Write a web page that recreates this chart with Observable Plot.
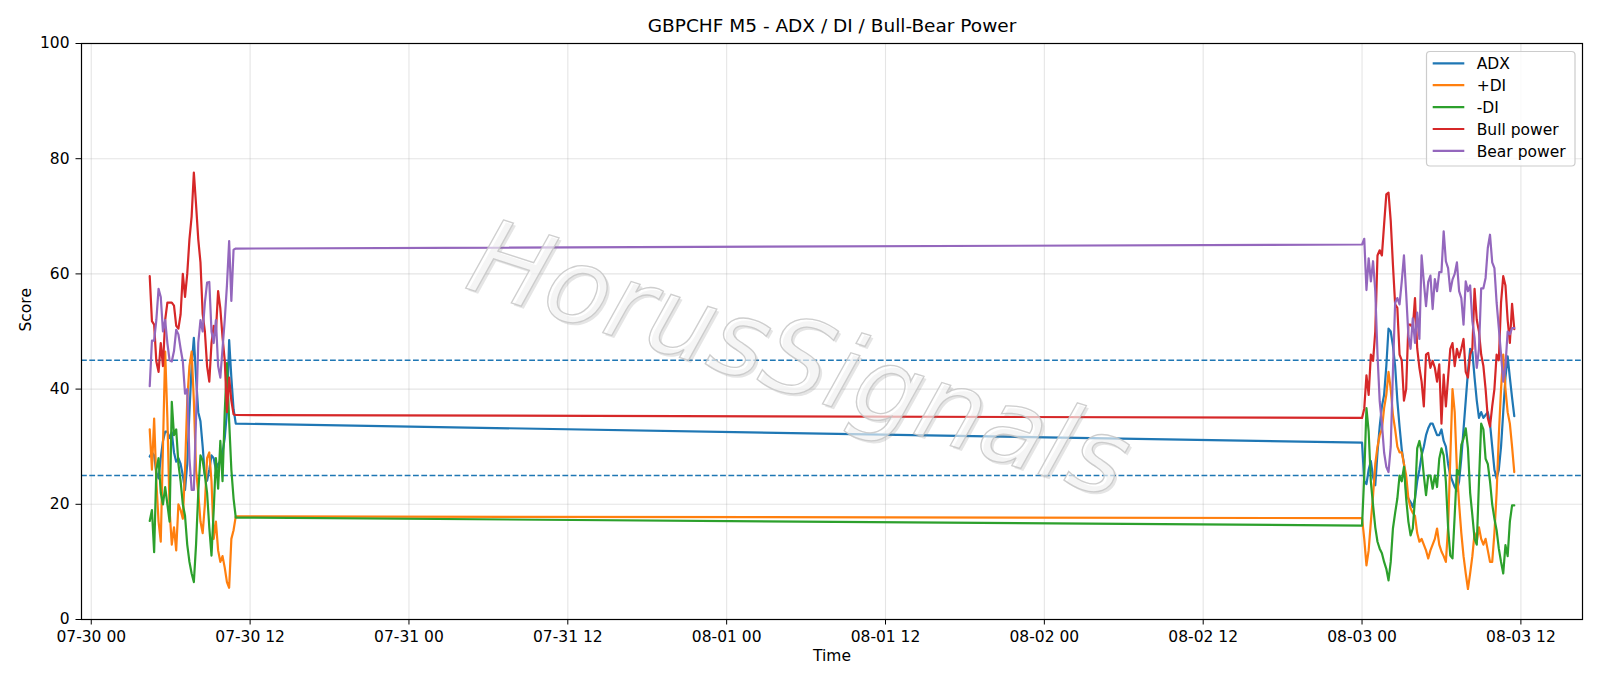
<!DOCTYPE html>
<html>
<head>
<meta charset="utf-8">
<script src="https://cdn.jsdelivr.net/npm/d3@7"></script>
<script src="https://cdn.jsdelivr.net/npm/@observablehq/plot@0.6"></script>
<style>
  html, body { margin: 0; padding: 0; background: #ffffff; }
  #chart svg { display: block; }
</style>
</head>
<body>
<div id="chart"></div>
<script>
// ---------------- DATA ----------------
const title = "GBPCHF M5 - ADX / DI / Bull-Bear Power";
const xLabel = "Time";
const yLabel = "Score";
const watermark = "HorusSignals";

const seriesNames = ["ADX", "+DI", "-DI", "Bull power", "Bear power"];
const seriesColors = ["#1f77b4", "#ff7f0e", "#2ca02c", "#d62728", "#9467bd"];

// two sessions of readings, one value every 10 minutes
const leftStart = "2025-07-30T04:25:00Z";
const rightStart = "2025-08-03T00:00:00Z";
const stepMinutes = 10;

const adxLeft = [28.3, 29, 28.5, 25.5, 24.5, 28, 31, 32.6, 32.6, 31.5, 32.5, 29, 27.4, 28, 27, 25, 22.5, 27, 36, 44,
  48.9, 42, 36, 34.4, 30, 25, 24.1, 26, 28.5, 28, 26, 27, 27.5, 29, 31.5, 36, 48.5, 42, 36.5, 34];
const plusDiLeft = [33, 26, 34.9, 24, 17, 13.5, 30, 46.5, 35, 19, 13, 16, 12, 20, 19, 17.5, 26, 38, 44, 46.5,
  38, 26, 22, 17, 15, 20, 28, 29, 24, 14, 17, 12, 10, 11, 9, 6.5, 5.5, 14, 15.5, 17.9];
const minusDiLeft = [17.1, 19, 11.7, 26, 28, 22, 20, 23, 20, 17, 37.8, 32, 33, 27, 24, 20, 18, 13, 10, 8,
  6.5, 13, 22, 28.5, 27.6, 25, 22, 16, 11.1, 19, 28, 22.7, 31, 24, 36, 44.5, 34.4, 26, 21, 17.7];
const bullLeft = [59.6, 51.8, 51.2, 44.8, 43, 48, 44, 52, 55, 55, 55, 54.5, 51, 50.5, 53, 60, 56, 60, 66, 70,
  77.6, 72, 66, 62, 53, 50, 44, 41.3, 48, 51, 50, 57, 54, 49, 45, 36, 42, 38, 35.6, 35.5];
const bearLeft = [40.5, 48.4, 48.4, 52, 57.4, 56, 50, 52, 48, 45, 44.8, 46.6, 50.3, 49.5, 47, 44.8, 39.2, 40, 28, 22.5,
  22.5, 35, 48, 52, 50, 55, 58.5, 58.6, 50, 48, 52, 44, 42, 47, 52, 58, 65.7, 55.3, 64.2, 64.4];

const adxRight = [30.7, 24, 23.5, 26, 27.5, 24.7, 23.3, 29, 33.5, 37, 39, 44, 50.5, 50, 47.5, 44, 38, 33.5, 29.5, 27,
  22.2, 21, 20.4, 19.5, 21, 24, 26, 28.5, 30, 32, 33.2, 34, 34, 33, 32, 32, 33, 31, 30, 27,
  25, 24, 23, 22.3, 24, 28, 33, 38, 43, 47, 46.5, 42, 38, 35, 36, 35, 35.5, 36, 34, 30,
  26, 24.5, 26, 30, 36, 42, 45.7, 42, 38.5, 35.3];
const plusDiRight = [17.6, 14, 9.4, 12, 17, 21.6, 27, 30, 32, 33, 36.7, 39, 43, 40, 35.5, 33, 30, 29, 29, 27,
  25, 21, 19.3, 18.5, 18, 15, 13.5, 14, 13, 12, 10.6, 12, 13, 14, 15.8, 13, 11.8, 11, 10, 16,
  28, 40, 36, 26, 20, 15, 11, 8, 5.3, 8, 11, 15, 13.5, 16, 14, 13, 14, 12, 10, 10,
  15, 22, 32, 40, 46, 40, 36, 34, 30, 25.6];
const minusDiRight = [16.3, 25, 36.7, 32.6, 23.9, 19.8, 16, 13.5, 12.3, 11.5, 10, 8.8, 6.8, 10, 15.8, 18.5, 21, 25, 24, 26.5,
  21, 17, 14.6, 15.8, 21, 29.7, 31, 29, 25, 21.6, 25, 25, 22.7, 25, 23, 27.9, 29.7, 28.5, 23.9, 16,
  11.1, 10.6, 18.1, 26, 25.1, 30.3, 31.4, 33.2, 29.7, 22, 18.1, 14, 13, 23.9, 34, 33, 27.9, 27, 24, 20,
  17.5, 15.5, 12.3, 10, 8, 12.9, 11, 17, 19.8, 19.8];
const bullRight = [35.0, 36.6, 42.4, 39, 46, 44.9, 50, 63.2, 64.1, 63.2, 68.6, 73.8, 74.1, 69.2, 61.6, 54.7, 54.1, 46, 45, 38,
  40, 51.2, 51.2, 50.6, 55.8, 47.1, 43.7, 41.3, 37, 46, 46.3, 43.7, 44.9, 43.7, 41.3, 44.3, 34, 42.5, 37, 42,
  47, 48, 44, 47, 45.5, 47, 48.7, 43, 42, 46, 47, 57.4, 52, 50, 46, 44, 40, 35, 33.5, 37,
  40, 46, 45, 55, 59.6, 58, 52, 48, 54.8, 50.4];
const bearRight = [65.1, 66.1, 57.2, 62.7, 58.7, 62.2, 57, 46, 37.9, 34, 29, 26.5, 25.6, 30, 43, 55, 55.8, 54.7, 58.7, 63.2,
  56.6, 49.3, 47, 52.3, 48, 53.3, 48.7, 63.2, 58.6, 54.4, 58.6, 59.7, 53.9, 59.1, 57, 60.3, 60.3, 67.4, 62.2, 61,
  57, 59, 60, 62, 57, 55.8, 51.2, 58.7, 57, 58, 51.8, 48.9, 43.7, 47, 57.5, 57.5, 59.3, 64.5, 66.8, 62,
  61, 55, 50.6, 46, 41.3, 44, 50, 49.5, 50.6, 50.6];

const xTickValues = ["2025-07-30T00:00:00Z", "2025-07-30T12:00:00Z", "2025-07-31T00:00:00Z", "2025-07-31T12:00:00Z",
  "2025-08-01T00:00:00Z", "2025-08-01T12:00:00Z", "2025-08-02T00:00:00Z", "2025-08-02T12:00:00Z",
  "2025-08-03T00:00:00Z", "2025-08-03T12:00:00Z"];
const yTicks = [0, 20, 40, 60, 80, 100];
const thresholdLevels = [25, 45];

// ---------------- BUILD ----------------
const leftValues = [adxLeft, plusDiLeft, minusDiLeft, bullLeft, bearLeft];
const rightValues = [adxRight, plusDiRight, minusDiRight, bullRight, bearRight];

function stamp(start, i) {
  return new Date(Date.parse(start) + i * stepMinutes * 60000);
}
const seriesRows = seriesNames.map((name, k) => {
  const a = leftValues[k].map((v, i) => ({t: stamp(leftStart, i), v, s: name}));
  const b = rightValues[k].map((v, i) => ({t: stamp(rightStart, i), v, s: name}));
  return a.concat(b);
});
const allRows = seriesRows.flat();
const tMin = d3.min(allRows, d => d.t), tMax = d3.max(allRows, d => d.t);
const pad = (tMax - tMin) * 0.05;
const xDomain = [new Date(+tMin - pad), new Date(+tMax + pad)];
const xTicks = xTickValues.map(d => new Date(d));

const FONT = "'DejaVu Sans', 'Liberation Sans', sans-serif";

const chart = Plot.plot({
  width: 1600,
  height: 686,
  marginLeft: 81,
  marginRight: 18,
  marginTop: 43,
  marginBottom: 67,
  style: {fontFamily: FONT, fontSize: "15.5px", background: "#ffffff", color: "#000000", overflow: "visible"},
  x: {type: "utc", domain: xDomain, ticks: xTicks, tickFormat: d3.utcFormat("%m-%d %H"),
      tickSize: 5.5, tickPadding: 6, label: null},
  y: {domain: [0, 100], ticks: yTicks, tickSize: 5.5, tickPadding: 6.5, label: null},
  color: {domain: seriesNames, range: seriesColors},
  marks: [
    Plot.gridX(xTicks, {stroke: "#b0b0b0", strokeOpacity: 0.33, strokeWidth: 1.1}),
    Plot.gridY(yTicks, {stroke: "#b0b0b0", strokeOpacity: 0.33, strokeWidth: 1.1}),
    Plot.ruleY(thresholdLevels, {stroke: "#1f77b4", strokeWidth: 1.5, strokeDasharray: "5.8,2.5"}),
    ...seriesRows.map(rows => Plot.line(rows, {x: "t", y: "v", stroke: "s", strokeWidth: 2.2, curve: "linear"})),
    Plot.frame({stroke: "#000000", strokeWidth: 1.2}),
    Plot.text([title], {text: d => d, frameAnchor: "top", lineAnchor: "middle", dy: -17, fontSize: 18.5}),
    Plot.text([xLabel], {text: d => d, frameAnchor: "bottom", lineAnchor: "middle", dy: 37}),
    Plot.text([yLabel], {text: d => d, frameAnchor: "left", lineAnchor: "middle", dx: -55.5, rotate: -90})
  ]
});
document.getElementById("chart").appendChild(chart);

// ---------------- LEGEND ----------------
const svg = d3.select(chart);
const lg = svg.append("g").attr("font-family", FONT).attr("font-size", 15.5).attr("text-anchor", "start");
const lgX = 1426.5, lgY = 51.5, lgW = 148.5, lgH = 114.5, rowH = 21.9;
lg.append("rect").attr("x", lgX).attr("y", lgY).attr("width", lgW).attr("height", lgH)
  .attr("rx", 3.5).attr("fill", "#ffffff").attr("fill-opacity", 0.8)
  .attr("stroke", "#cccccc").attr("stroke-width", 1.2);
seriesNames.forEach((name, i) => {
  const y = lgY + 11.8 + i * rowH;
  lg.append("line").attr("x1", lgX + 6.2).attr("x2", lgX + 37.8).attr("y1", y).attr("y2", y)
    .attr("stroke", seriesColors[i]).attr("stroke-width", 2.2);
  lg.append("text").attr("x", lgX + 50.2).attr("y", y + 5.6).attr("fill", "#000")
    .attr("text-anchor", "start").text(name);
});

// ---------------- WATERMARK ----------------
const wmCx = 800, wmCy = 358, wmAngle = 18;
const shadow = svg.append("g")
  .attr("transform", `translate(${wmCx + 2.5},${wmCy + 2.5}) rotate(${wmAngle})`)
  .attr("font-family", FONT).attr("font-style", "oblique").attr("font-size", 105)
  .attr("text-anchor", "middle");
shadow.append("text").attr("dy", "0.35em").attr("fill", "#8a8a8a").attr("fill-opacity", 0.22)
  .text(watermark);
const wm = svg.append("g")
  .attr("transform", `translate(${wmCx},${wmCy}) rotate(${wmAngle})`)
  .attr("font-family", FONT).attr("font-style", "oblique").attr("font-size", 105)
  .attr("text-anchor", "middle");
wm.append("text").attr("dy", "0.35em").attr("fill", "#ffffff").attr("fill-opacity", 0.6)
  .attr("stroke", "#c6c6c6").attr("stroke-opacity", 0.85).attr("stroke-width", 1.3).text(watermark);
</script>
</body>
</html>
